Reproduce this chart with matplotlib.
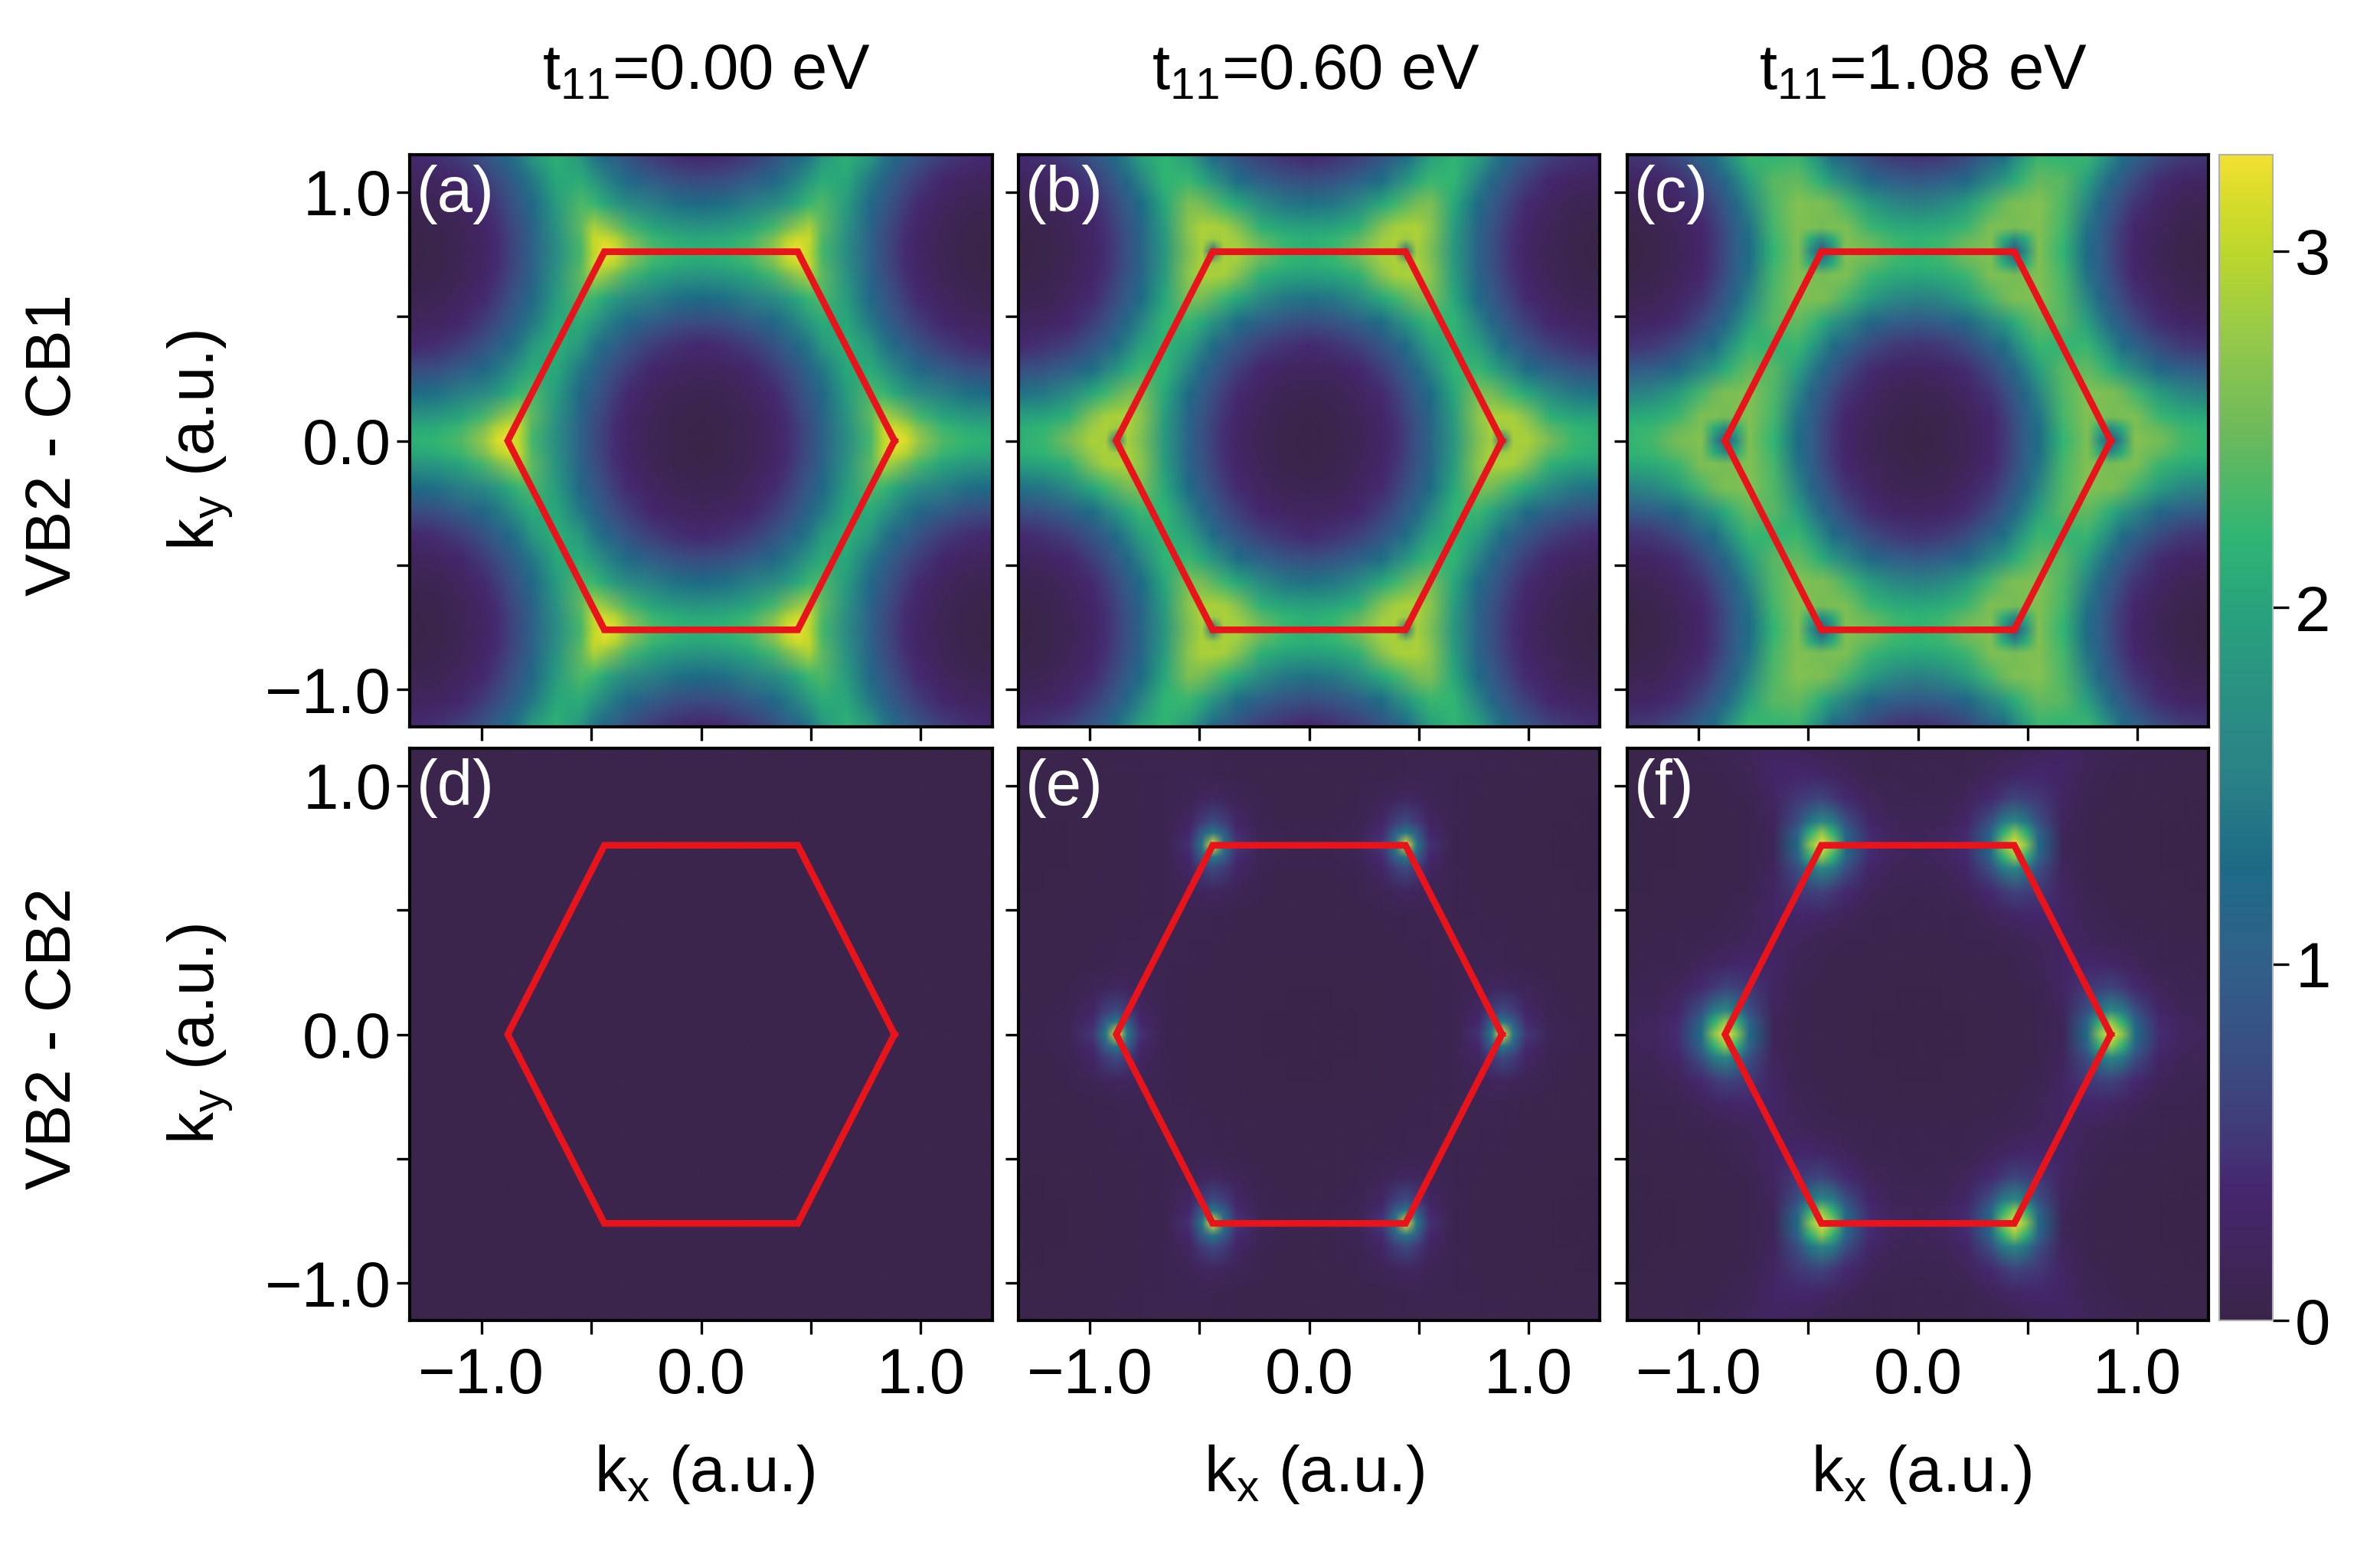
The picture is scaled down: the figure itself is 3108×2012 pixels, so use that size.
import numpy as np
import matplotlib
matplotlib.use('Agg')
import matplotlib.pyplot as plt
from matplotlib.colors import LinearSegmentedColormap, Normalize
from matplotlib.image import NonUniformImage

plt.rcParams['font.family'] = ['Liberation Sans', 'DejaVu Sans']
plt.rcParams['mathtext.fontset'] = 'custom'
plt.rcParams['mathtext.rm'] = 'Liberation Sans'
plt.rcParams['mathtext.it'] = 'Liberation Sans'
plt.rcParams['font.size'] = 20

# colour bar (value, colour)
cbar_values = [0, 0.37, 0.5, 0.7, 1.0, 1.28, 1.51, 1.75, 2.0, 2.2, 2.49, 2.78, 3.0, 3.15, 3.27]
cbar_colors = ['#3a2549', '#46266f', '#433877', '#3b4a80', '#31608a', '#1d6b86', '#2a8086',
               '#2a9083', '#28a37c', '#30b574', '#6cb95c', '#98ca48', '#bcd72c', '#d8dc2a', '#f3e031']
vmax = 3.27

# sample positions, closer together around the zone corners
kx_nodes = [0, 0.11, 0.22, 0.33, 0.39, 0.44, 0.49, 0.55, 0.66, 0.77, 0.83, 0.88, 0.93, 0.99, 1.10, 1.21, 1.32]
ky_nodes = [0, 0.05, 0.095, 0.19, 0.285, 0.38, 0.475, 0.57, 0.665, 0.71, 0.76]

# lower half of the kx>=0, ky>=0 quadrant (ky = 0 ... 0.38), one row per ky
map_a = [
    [0.00, 0.04, 0.12, 0.27, 0.41, 0.57, 0.75, 1.05, 1.70, 2.30, 3.00, 3.27, 3.15, 2.75, 2.35, 2.20, 2.15],
    [0.01, 0.05, 0.13, 0.28, 0.42, 0.58, 0.76, 1.06, 1.72, 2.35, 3.05, 3.10, 2.95, 2.60, 2.25, 2.10, 2.05],
    [0.03, 0.06, 0.14, 0.30, 0.44, 0.62, 0.79, 1.10, 1.78, 2.42, 2.90, 2.75, 2.55, 2.30, 2.00, 1.85, 1.80],
    [0.09, 0.12, 0.22, 0.39, 0.55, 0.72, 0.93, 1.20, 1.90, 2.35, 2.25, 2.05, 1.85, 1.65, 1.50, 1.33, 1.28],
    [0.20, 0.23, 0.34, 0.55, 0.72, 0.90, 1.13, 1.42, 2.05, 2.10, 1.85, 1.60, 1.40, 1.20, 0.95, 0.78, 0.72],
    [0.38, 0.43, 0.56, 0.80, 1.02, 1.20, 1.42, 1.85, 2.15, 1.85, 1.42, 1.20, 1.02, 0.80, 0.56, 0.43, 0.38],
]
map_b = [
    [0.00, 0.04, 0.12, 0.28, 0.43, 0.60, 0.80, 1.08, 1.85, 2.60, 2.85, 1.20, 2.85, 2.90, 2.55, 2.25, 2.15],
    [0.01, 0.05, 0.13, 0.29, 0.44, 0.61, 0.82, 1.10, 1.87, 2.65, 2.90, 2.80, 2.90, 2.80, 2.40, 2.20, 2.12],
    [0.03, 0.06, 0.15, 0.31, 0.46, 0.64, 0.84, 1.12, 1.92, 2.70, 2.90, 2.90, 2.85, 2.65, 2.15, 2.00, 1.95],
    [0.09, 0.12, 0.23, 0.40, 0.57, 0.75, 0.97, 1.27, 2.05, 2.60, 2.55, 2.40, 2.25, 2.05, 1.65, 1.42, 1.35],
    [0.21, 0.24, 0.36, 0.58, 0.77, 0.97, 1.20, 1.55, 2.20, 2.25, 2.05, 1.80, 1.55, 1.30, 1.02, 0.84, 0.76],
    [0.40, 0.46, 0.60, 0.86, 1.05, 1.30, 1.55, 1.95, 2.20, 1.95, 1.55, 1.30, 1.05, 0.86, 0.60, 0.46, 0.40],
]
map_c = [
    [0.00, 0.04, 0.14, 0.32, 0.50, 0.72, 1.00, 1.30, 2.20, 2.60, 1.70, 0.80, 1.70, 2.65, 2.55, 2.30, 2.20],
    [0.01, 0.05, 0.15, 0.33, 0.51, 0.73, 1.02, 1.32, 2.25, 2.62, 2.10, 1.70, 2.10, 2.60, 2.45, 2.25, 2.18],
    [0.03, 0.07, 0.17, 0.36, 0.54, 0.77, 1.05, 1.37, 2.30, 2.62, 2.60, 2.55, 2.60, 2.60, 2.25, 2.10, 2.05],
    [0.10, 0.14, 0.27, 0.47, 0.70, 0.93, 1.18, 1.60, 2.35, 2.65, 2.60, 2.60, 2.50, 2.30, 1.90, 1.62, 1.52],
    [0.24, 0.28, 0.42, 0.70, 0.95, 1.17, 1.50, 1.95, 2.40, 2.45, 2.30, 2.10, 1.85, 1.60, 1.20, 1.00, 0.92],
    [0.47, 0.52, 0.72, 1.08, 1.30, 1.62, 1.95, 2.25, 2.20, 2.25, 1.95, 1.62, 1.30, 1.08, 0.72, 0.52, 0.47],
]
map_d_level = 0.04
map_e = [
    [0.02, 0.02, 0.03, 0.04, 0.04, 0.05, 0.05, 0.06, 0.08, 0.45, 1.40, 3.27, 1.40, 0.50, 0.14, 0.07, 0.06],
    [0.02, 0.02, 0.03, 0.04, 0.04, 0.05, 0.05, 0.06, 0.08, 0.35, 0.95, 1.40, 0.95, 0.40, 0.12, 0.07, 0.06],
    [0.02, 0.03, 0.03, 0.04, 0.04, 0.05, 0.05, 0.06, 0.09, 0.24, 0.52, 0.70, 0.55, 0.28, 0.09, 0.06, 0.06],
    [0.03, 0.03, 0.03, 0.04, 0.05, 0.05, 0.05, 0.06, 0.08, 0.14, 0.20, 0.22, 0.18, 0.13, 0.07, 0.05, 0.05],
    [0.04, 0.04, 0.04, 0.05, 0.05, 0.06, 0.06, 0.07, 0.07, 0.09, 0.09, 0.08, 0.07, 0.06, 0.05, 0.05, 0.05],
    [0.05, 0.05, 0.05, 0.06, 0.06, 0.07, 0.07, 0.07, 0.08, 0.07, 0.07, 0.07, 0.06, 0.06, 0.05, 0.05, 0.05],
]
map_f = [
    [0.02, 0.02, 0.03, 0.04, 0.04, 0.05, 0.06, 0.07, 0.16, 1.25, 2.70, 3.27, 2.70, 1.30, 0.42, 0.20, 0.16],
    [0.02, 0.02, 0.03, 0.04, 0.04, 0.05, 0.06, 0.07, 0.17, 1.05, 2.15, 2.70, 2.15, 1.10, 0.40, 0.19, 0.15],
    [0.02, 0.03, 0.03, 0.04, 0.05, 0.05, 0.06, 0.08, 0.20, 0.75, 1.40, 1.60, 1.45, 0.78, 0.30, 0.15, 0.13],
    [0.03, 0.03, 0.04, 0.05, 0.05, 0.06, 0.07, 0.09, 0.25, 0.50, 0.58, 0.62, 0.50, 0.38, 0.17, 0.10, 0.09],
    [0.04, 0.04, 0.05, 0.06, 0.06, 0.08, 0.10, 0.13, 0.28, 0.34, 0.32, 0.27, 0.23, 0.17, 0.08, 0.07, 0.06],
    [0.06, 0.06, 0.07, 0.08, 0.10, 0.12, 0.15, 0.18, 0.25, 0.18, 0.15, 0.12, 0.10, 0.08, 0.07, 0.06, 0.06],
]

# Brillouin zone outline
hex_kx = [0.88, 0.44, -0.44, -0.88, -0.44, 0.44, 0.88]
hex_ky = [0.0, 0.76, 0.76, 0.0, -0.76, -0.76, 0.0]

col_titles = ['0.00', '0.60', '1.08']
row_titles = ['VB2 - CB1', 'VB2 - CB2']
panel_letters = ['(a)', '(b)', '(c)', '(d)', '(e)', '(f)']
major_ticks = [-1.0, 0.0, 1.0]
minor_ticks = [-0.5, 0.5]
cbar_ticks = [0, 1, 2, 3]

W, H = 3108, 2012
col_px = [(535, 1296), (1330, 2089), (2125, 2884)]
row_px = [(202, 949), (977, 1724)]
title_x = [922, 1718, 2511]


def expand(half):
    # the map repeats by mirrors, so rebuild the whole panel from the stored rows
    h = np.array(half)
    q = np.vstack([h, h[-2::-1, ::-1]])
    upper = np.vstack([q, q[9:3:-1]])
    wide = np.hstack([upper, upper[:, 15:16]])
    right = np.vstack([wide[:0:-1], wide])
    return np.hstack([right[:, :0:-1], right])


def make_axes(x0, x1, y0, y1):
    return fig.add_axes([x0 / W, 1 - y1 / H, (x1 - x0) / W, (y1 - y0) / H])


cmap = LinearSegmentedColormap.from_list(
    'gap', [(v / vmax, c) for v, c in zip(cbar_values, cbar_colors)], N=512)

kx_half = np.array(kx_nodes + [1.43])
ky_half = np.concatenate([ky_nodes, 1.52 - np.array(ky_nodes)[9:3:-1]])
kx_all = np.concatenate([-kx_half[:0:-1], kx_half])
ky_all = np.concatenate([-ky_half[:0:-1], ky_half])

maps = [map_a, map_b, map_c, np.full((6, 17), map_d_level), map_e, map_f]

fig = plt.figure(figsize=(W / 300, H / 300), dpi=300)

for n, data in enumerate(maps):
    row, col = n // 3, n % 3
    ax = make_axes(col_px[col][0], col_px[col][1], row_px[row][0], row_px[row][1])
    im = NonUniformImage(ax, interpolation='bilinear', cmap=cmap, norm=Normalize(0, vmax))
    im.set_data(kx_all, ky_all, expand(data))
    ax.add_image(im)
    ax.plot(hex_kx, hex_ky, color='#e8141c', lw=2.1, solid_joinstyle='miter')
    ax.set_xlim(-1.326, 1.326)
    ax.set_ylim(-1.15, 1.15)
    ax.set_xticks(major_ticks + minor_ticks)
    ax.set_yticks(major_ticks + minor_ticks)
    ax.set_xticklabels(['\u22121.0', '0.0', '1.0', '', ''] if row == 1 else [''] * 5)
    ax.set_yticklabels(['\u22121.0', '0.0', '1.0', '', ''] if col == 0 else [''] * 5)
    ax.tick_params(axis='x', length=4.2, width=0.8, pad=4)
    ax.tick_params(axis='y', length=4.2, width=0.8, pad=1.5)
    for s in ax.spines.values():
        s.set_linewidth(1.0)
    ax.text(0.012, 0.93, panel_letters[n], color='white', transform=ax.transAxes, va='center', ha='left')

for x, t in zip(title_x, col_titles):
    fig.text(x / W, 1 - 95 / H, r'$\mathregular{t_{11}}$=' + t + ' eV', ha='center', va='center')
    fig.text((x - 2) / W, 1 - 1925 / H, r'$\mathregular{k_x}$ (a.u.)', ha='center', va='center')

for (y0, y1), t in zip(row_px, row_titles):
    yc = (y0 + y1) / 2
    fig.text(70 / W, 1 - (yc + 5) / H, t, rotation=90, ha='center', va='center')
    fig.text(262 / W, 1 - (yc - 1) / H, r'$\mathregular{k_y}$ (a.u.)', rotation=90, ha='center', va='center')

cax = make_axes(2898, 2968, 202, 1724)
cb = fig.colorbar(im, cax=cax)
cb.set_ticks(cbar_ticks)
cb.set_ticklabels(['0', '1', '2', '3'])
cax.tick_params(length=5, width=0.8, pad=2)
cb.outline.set_edgecolor('#b0b0b0')
cb.outline.set_linewidth(0.5)

plt.savefig('out.png', dpi=300)
